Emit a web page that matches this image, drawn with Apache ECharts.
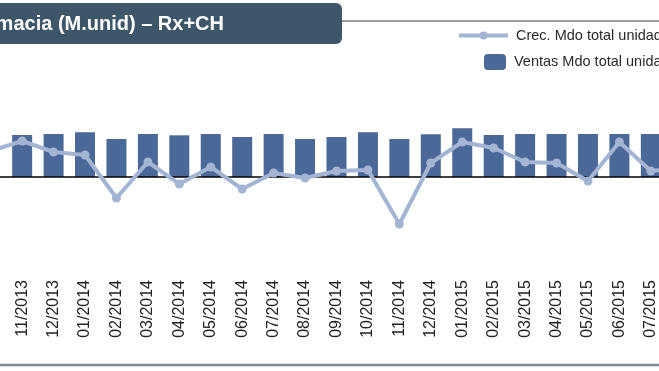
<!DOCTYPE html>
<html>
<head>
<meta charset="utf-8">
<script src="https://cdn.jsdelivr.net/npm/echarts@6/dist/echarts.min.js"></script>
<style>
html,body{margin:0;padding:0;background:#fff;overflow:hidden;width:659px;height:371px;position:relative;}
#chart{position:absolute;left:-25px;top:0;width:723px;height:371px;}
</style>
</head>
<body>
<div id="chart"></div>
<script>
// Data
const categories = ['10/2013','11/2013','12/2013','01/2014','02/2014','03/2014','04/2014','05/2014','06/2014','07/2014','08/2014','09/2014','10/2014','11/2014','12/2014','01/2015','02/2015','03/2015','04/2015','05/2015','06/2015','07/2015','08/2015'];
const ventasUnidades = [null,105,107.5,111.7,95,107.5,104.2,107.5,100,107.5,95,100,111.7,95,106.7,121.7,105,107.5,107.5,107.5,107.5,107.5,null];
const crecUnidades = [2.6,3.6,2.5,2.2,-2.1,1.5,-0.7,1.0,-1.2,0.4,-0.1,0.6,0.7,-4.7,1.4,3.5,2.9,1.5,1.4,-0.4,3.5,0.6,0.9];
const titleText = 'Farmacia (M.unid) – Rx+CH';
const nameCrec = 'Crec. Mdo total unidades';
const nameVentas = 'Ventas Mdo total unidades';

const FONT = "'Liberation Sans', Arial, sans-serif";
const OFF = 25; // chart canvas starts 25px left of the visible page
const chart = echarts.init(document.getElementById('chart'), null, {renderer:'canvas'});
chart.setOption({
  animation: false,
  backgroundColor: '#ffffff',
  textStyle: {fontFamily: FONT},
  grid: {left: 0, right: 0, top: 77, bottom: 94, containLabel: false},
  legend: [
    {
      data: [nameCrec], left: 457 + OFF, top: 28, padding: 0,
      itemWidth: 49, itemHeight: 10,
      lineStyle: {width: 4},
      textStyle: {fontSize: 14.5, color: '#2a2a2a', fontFamily: FONT, padding: [0,0,0,3]},
      selectedMode: false
    },
    {
      data: [nameVentas], left: 484 + OFF, top: 54, padding: 0,
      itemWidth: 22, itemHeight: 16,
      textStyle: {fontSize: 14.5, color: '#2a2a2a', fontFamily: FONT, padding: [0,0,0,3]},
      selectedMode: false
    }
  ],
  xAxis: {
    type: 'category', data: categories,
    axisLine: {show: false}, axisTick: {show: false},
    axisLabel: {rotate: 90, margin: 3, fontSize: 16, color: '#222', fontFamily: FONT, interval: 0}
  },
  yAxis: [
    {type: 'value', min: -250, max: 250, show: false, splitLine: {show: false}},
    {type: 'value', min: -10, max: 10, show: false, splitLine: {show: false}}
  ],
  series: [
    {
      name: nameVentas, type: 'bar', yAxisIndex: 0, data: ventasUnidades,
      barWidth: 20, itemStyle: {color: '#4a6898'}, z: 2
    },
    {
      name: nameCrec, type: 'line', yAxisIndex: 1, data: crecUnidades,
      symbol: 'circle', symbolSize: 9, clip: false,
      lineStyle: {width: 4, color: '#a3b5d3'},
      itemStyle: {color: '#a3b5d3'}, z: 4,
      markLine: {
        silent: true, symbol: 'none', label: {show: false},
        lineStyle: {color: '#000', width: 1.5, type: 'solid'},
        data: [{yAxis: 0}], z: 3
      }
    }
  ],
  graphic: [
    {type: 'rect', shape: {x: 13, y: 3, width: 354, height: 41, r: 6}, style: {fill: '#3d5768'}, z: 10},
    {type: 'line', shape: {x1: 342 + OFF, y1: 21, x2: 723, y2: 21}, style: {stroke: '#7a7f85', lineWidth: 1.5}, z: 9},
    {type: 'text', x: 224 + OFF, y: 24, style: {text: titleText, fill: '#ffffff', font: "bold 20px 'Liberation Sans', Arial, sans-serif", textAlign: 'right', textVerticalAlign: 'middle'}, z: 11},
    {type: 'line', shape: {x1: 0, y1: 365, x2: 723, y2: 365}, style: {stroke: '#7d8894', lineWidth: 2.5}, z: 9}
  ]
});
</script>
</body>
</html>
